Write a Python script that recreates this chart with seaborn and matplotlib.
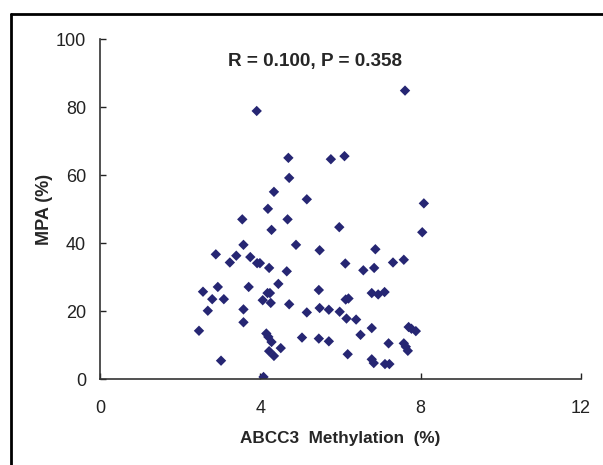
import numpy as np
import pandas as pd
import matplotlib
matplotlib.use('Agg')
import matplotlib.pyplot as plt
import seaborn as sns
from matplotlib.lines import Line2D

# values
methylation = [3.91, 7.61, 4.70, 5.76, 6.10, 4.72, 4.34, 5.16, 4.19, 8.08,
               3.55, 4.68, 4.28, 5.97, 8.04, 3.58, 4.89, 5.48, 6.87, 2.89,
               3.40, 3.24, 3.75, 3.92, 3.99, 4.22, 4.66, 6.12, 6.57, 6.84,
               7.31, 7.58, 2.57, 2.94, 2.80, 3.09, 3.71, 4.18, 4.24, 4.45,
               4.06, 4.26, 4.72, 5.46, 6.13, 6.20, 6.78, 6.94, 7.10, 2.69,
               3.58, 3.58, 5.16, 5.48, 5.71, 5.98, 6.15, 6.39, 2.47, 4.15,
               4.20, 4.28, 4.51, 5.04, 5.46, 5.71, 6.50, 6.78, 7.70, 7.77,
               7.88, 7.20, 7.58, 7.63, 7.68, 4.22, 4.34, 3.02, 6.18, 6.78,
               6.83, 7.11, 7.22, 4.08]
mpa = [78.9, 84.9, 65.1, 64.7, 65.6, 59.2, 55.1, 52.9, 50.1, 51.7,
       47.0, 47.0, 43.9, 44.7, 43.2, 39.5, 39.5, 37.9, 38.2, 36.7,
       36.3, 34.3, 35.9, 34.1, 34.1, 32.7, 31.7, 34.0, 32.0, 32.7,
       34.3, 35.1, 25.7, 27.1, 23.5, 23.5, 27.1, 25.3, 25.3, 28.0,
       23.2, 22.4, 22.0, 26.2, 23.4, 23.7, 25.3, 24.9, 25.6, 20.1,
       20.5, 16.7, 19.6, 20.9, 20.4, 19.8, 17.8, 17.5, 14.2, 13.4,
       12.4, 10.9, 9.1, 12.2, 11.9, 11.1, 13.0, 15.0, 15.3, 14.8,
       14.1, 10.5, 10.5, 9.5, 8.3, 8.2, 6.8, 5.4, 7.3, 5.8,
       4.7, 4.4, 4.4, 0.6]
x_ticks = [0, 4, 8, 12]
y_ticks = [0, 20, 40, 60, 80, 100]
stats_text = 'R = 0.100, P = 0.358'

df = pd.DataFrame({'ABCC3': methylation, 'MPA': mpa})

sns.set_style('white')
plt.rcParams['font.family'] = ['Liberation Sans', 'DejaVu Sans']

fig = plt.figure(figsize=(6.03, 4.65), dpi=100)
ax = fig.add_axes([0.1658, 0.1849, 0.7977, 0.7306])

sns.scatterplot(data=df, x='ABCC3', y='MPA', ax=ax, marker='D', s=28,
                color='#262673', edgecolor='none', linewidth=0)

ax.set_xlim(0, 12)
ax.set_ylim(0, 100)
ax.set_xticks(x_ticks)
ax.set_yticks(y_ticks)
ax.tick_params(direction='in', length=4, width=1, labelsize=13, pad=10,
               left=True, bottom=True, colors='#222222')
ax.tick_params(axis='x', pad=15)
sns.despine(ax=ax)
for sp in ['left', 'bottom']:
    ax.spines[sp].set_color('#333333')
    ax.spines[sp].set_linewidth(1.2)

ax.set_xlabel('ABCC3  Methylation  (%)', fontsize=12.3, fontweight='bold', labelpad=10)
ax.set_ylabel('MPA (%)', fontsize=13, fontweight='bold', labelpad=2)
ax.text(0.447, 0.935, stats_text, transform=ax.transAxes, ha='center', va='center',
        fontsize=13.6, fontweight='bold')

# outer frame (top and left only)
fig.add_artist(Line2D([11 / 603, 1.0], [1 - 14 / 465, 1 - 14 / 465],
                      transform=fig.transFigure, color='black', linewidth=2))
fig.add_artist(Line2D([11 / 603, 11 / 603], [0, 1 - 14 / 465],
                      transform=fig.transFigure, color='black', linewidth=2))

fig.savefig('out.png', dpi=100)
